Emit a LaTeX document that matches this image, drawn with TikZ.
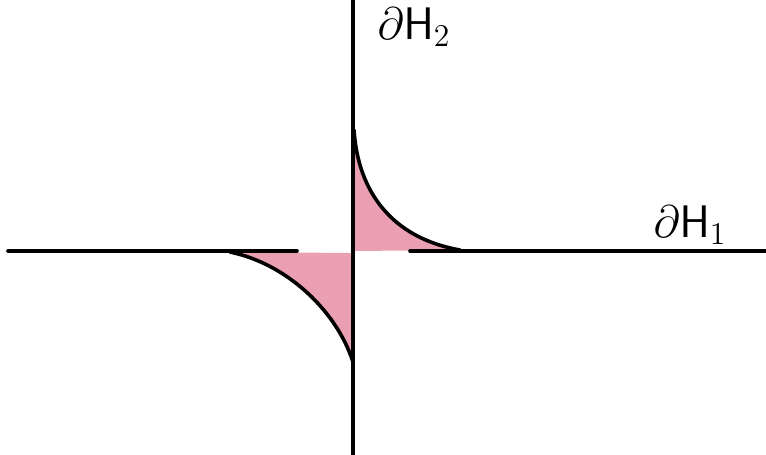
\documentclass[tikz,border=0pt]{standalone}
\begin{document}
\begin{tikzpicture}[x=1pt,y=-1pt,
  axis/.style={line width=3.6pt,line cap=round},
  bd/.style={line width=3.6pt,line cap=round},
  shade/.style={fill={rgb,255:red,222;green,95;blue,128},fill opacity=0.6,draw=none},
  lbl/.style={font=\huge,scale=2.2,line width=0.5pt}]
\useasboundingbox (0,0) rectangle (766,455);
\coordinate (O) at (353,251);
\coordinate (L) at (8,251);
\coordinate (Lend) at (297,251);
\coordinate (Rstart) at (410,251);
\coordinate (R) at (766,251);
\coordinate (T) at (353,0);
\coordinate (B) at (353,455);
\coordinate (u1) at (354,130);
\coordinate (u2) at (460,250);
\coordinate (d1) at (230,252);
\coordinate (d2) at (353,362);
% shaded regions
\path[shade] (u1) .. controls (358,192) and (392,238) .. (u2) -- (355,251) -- cycle;
\path[shade] (d1) .. controls (288,264) and (337,312) .. (d2) -- (352,253) -- cycle;
% axes
\draw[axis] (L) -- (Lend);
\draw[axis] (Rstart) -- (R);
\draw[axis] (T) -- (B);
% curves
\draw[bd] (u1) .. controls (358,192) and (392,238) .. (u2);
\draw[bd] (d1) .. controls (288,264) and (337,312) .. (d2);
% labels
\node[lbl] (h2) at (414,27) {$\partial\mathsf{H}_2$};
\node[lbl] (h1) at (690,225) {$\partial\mathsf{H}_1$};
\end{tikzpicture}
\end{document}
